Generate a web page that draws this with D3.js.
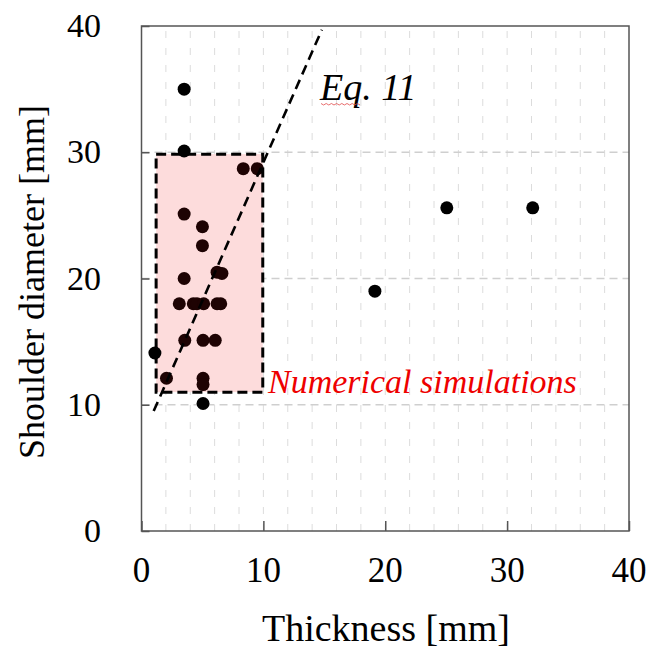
<!DOCTYPE html>
<html>
<head>
<meta charset="utf-8">
<script src="https://cdnjs.cloudflare.com/ajax/libs/d3/7.8.5/d3.min.js"></script>
<style>
  body { margin: 0; background: #fff; }
  text { font-family: "Liberation Serif", "Times New Roman", serif; }
</style>
</head>
<body>
<div id="chart"></div>
<script>
// thickness [mm], shoulder diameter [mm]
var thickness = [3.5, 3.5, 3.5, 5, 5, 3.5, 6.2, 6.6, 3.1, 4.25, 4.55, 5.1, 6.2, 6.5,
  3.55, 5.05, 6.05, 1.1, 2.05, 5.05, 5.05, 5.05, 8.35, 9.5, 19.15, 25.05, 32.1];
var diameter = [35, 30.1, 25.1, 24.1, 22.6, 20, 20.5, 20.4, 18, 18, 18, 18, 18, 18,
  15.1, 15.1, 15.1, 14.1, 12.1, 12.1, 11.6, 10.1, 28.7, 28.7, 19, 25.6, 25.6];
var eq_line = [[1, 9.5], [14.8, 39.7]];
var sim_box = { x0: 1.2, x1: 9.95, y0: 11, y1: 29.85 };
var x_ticks = [0, 10, 20, 30, 40];
var y_ticks = [0, 10, 20, 30, 40];
var minor_x = d3.range(2, 40, 2);

var width = 665;
var height = 649;
var margin = { left: 141.5, right: 36, top: 26, bottom: 118 };

var svg = d3
  .select("div#chart")
  .append("svg")
  .attr("width", width)
  .attr("height", height);

var x = d3.scaleLinear().domain([0, 40]).range([margin.left, width - margin.right]);
var y = d3.scaleLinear().domain([0, 40]).range([height - margin.bottom, margin.top]);

// grid
svg.append("g")
  .selectAll("line")
  .data(minor_x)
  .enter()
  .append("line")
  .attr("x1", function (d) { return x(d); })
  .attr("x2", function (d) { return x(d); })
  .attr("y1", y(0))
  .attr("y2", y(40))
  .attr("stroke", "#dcdcdc")
  .attr("stroke-width", 1)
  .attr("stroke-dasharray", "7,10");

svg.append("g")
  .selectAll("line")
  .data([10, 20, 30])
  .enter()
  .append("line")
  .attr("x1", x(0))
  .attr("x2", x(40))
  .attr("y1", function (d) { return y(d); })
  .attr("y2", function (d) { return y(d); })
  .attr("stroke", "#cfcfcf")
  .attr("stroke-width", 1.3)
  .attr("stroke-dasharray", "8,5");

// numerical simulation box
svg.append("rect")
  .attr("x", x(sim_box.x0))
  .attr("y", y(sim_box.y1))
  .attr("width", x(sim_box.x1) - x(sim_box.x0))
  .attr("height", y(sim_box.y0) - y(sim_box.y1))
  .attr("fill", "#fddcdc");

// points
svg.append("g")
  .selectAll("circle")
  .data(d3.range(thickness.length))
  .enter()
  .append("circle")
  .attr("cx", function (i) { return x(thickness[i]); })
  .attr("cy", function (i) { return y(diameter[i]); })
  .attr("r", 6.5)
  .attr("fill", function (i) {
    var inside = thickness[i] >= sim_box.x0 && thickness[i] <= sim_box.x1 &&
      diameter[i] >= sim_box.y0 && diameter[i] <= sim_box.y1;
    return inside ? "#1e0303" : "#000";
  });

svg.append("rect")
  .attr("x", x(sim_box.x0))
  .attr("y", y(sim_box.y1))
  .attr("width", x(sim_box.x1) - x(sim_box.x0))
  .attr("height", y(sim_box.y0) - y(sim_box.y1))
  .attr("fill", "none")
  .attr("stroke", "#000")
  .attr("stroke-width", 3)
  .attr("stroke-dasharray", "10,5");

// Eq. 11 line
svg.append("path")
  .datum(eq_line)
  .attr("d", d3.line().x(function (d) { return x(d[0]); }).y(function (d) { return y(d[1]); }))
  .attr("fill", "none")
  .attr("stroke", "#000")
  .attr("stroke-width", 2.6)
  .attr("stroke-dasharray", "10,6");

// frame and inward ticks
svg.append("rect")
  .attr("x", x(0))
  .attr("y", y(40))
  .attr("width", x(40) - x(0))
  .attr("height", y(0) - y(40))
  .attr("fill", "none")
  .attr("stroke", "#555")
  .attr("stroke-width", 1.5);

svg.append("g")
  .attr("transform", "translate(0," + y(0) + ")")
  .call(d3.axisBottom(x).tickValues(x_ticks).tickSize(-10).tickFormat(""))
  .call(function (g) { g.select(".domain").remove(); })
  .selectAll("line").attr("stroke", "#555").attr("stroke-width", 1.5);

svg.append("g")
  .attr("transform", "translate(" + x(0) + ",0)")
  .call(d3.axisLeft(y).tickValues(y_ticks).tickSize(-8).tickFormat(""))
  .call(function (g) { g.select(".domain").remove(); })
  .selectAll("line").attr("stroke", "#555").attr("stroke-width", 1.5);

// tick labels
svg.append("g")
  .selectAll("text")
  .data(x_ticks)
  .enter()
  .append("text")
  .attr("x", function (d) { return x(d); })
  .attr("y", y(0) + 51)
  .attr("text-anchor", "middle")
  .style("font-size", "35px")
  .text(function (d) { return d; });

svg.append("g")
  .selectAll("text")
  .data(y_ticks)
  .enter()
  .append("text")
  .attr("x", 101)
  .attr("y", function (d) { return y(d) + 11; })
  .attr("text-anchor", "end")
  .style("font-size", "34px")
  .text(function (d) { return d; });

// axis titles
svg.append("text")
  .attr("x", 386)
  .attr("y", 641)
  .attr("text-anchor", "middle")
  .style("font-size", "38px")
  .text("Thickness [mm]");

svg.append("text")
  .attr("transform", "translate(44,282) rotate(-90)")
  .attr("text-anchor", "middle")
  .style("font-size", "36px")
  .text("Shoulder diameter [mm]");

// annotations
svg.append("text")
  .attr("x", 320)
  .attr("y", 100)
  .style("font-size", "38px")
  .style("font-style", "italic")
  .text("Eq. 11");

svg.append("path")
  .attr("d", d3.line()(d3.range(0, 16).map(function (i) { return [321 + i * 2.6, 103.5 + (i % 2) * 1.5]; })))
  .attr("fill", "none")
  .attr("stroke", "#e24a4a")
  .attr("stroke-width", 0.8);

svg.append("text")
  .attr("x", 268)
  .attr("y", 393)
  .style("font-size", "34px")
  .style("font-style", "italic")
  .attr("fill", "#ee0000")
  .text("Numerical simulations");
</script>
</body>
</html>
